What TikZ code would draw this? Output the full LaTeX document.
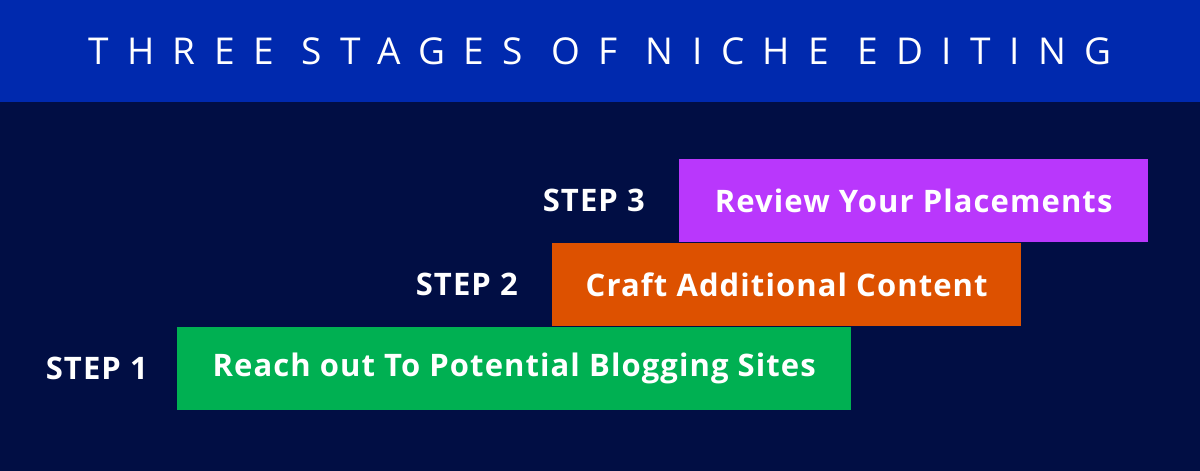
\documentclass[tikz,border=0pt]{standalone}
\usepackage{fontspec}
\setmainfont{Open Sans}
\usetikzlibrary{positioning}
\definecolor{navybg}{HTML}{010E44}
\definecolor{bandblue}{HTML}{0029AE}
\definecolor{purplebar}{HTML}{B937FC}
\definecolor{orangebar}{HTML}{DD5100}
\definecolor{greenbar}{HTML}{00B052}

\begin{document}
\begin{tikzpicture}[x=1pt,y=1pt,
	bar/.style={rectangle, inner sep=0pt, minimum height=83pt, text=white, anchor=north west,
		font=\fontsize{31}{36}\selectfont\bfseries\addfontfeature{LetterSpace=3.5}},
	steplabel/.style={text=white, inner sep=0pt, font=\fontsize{31}{36}\selectfont\bfseries\addfontfeature{LetterSpace=3.5}}]
	\useasboundingbox (0,0) rectangle (1200,471);
	\fill[navybg] (0,0) rectangle (1200,471);
	\node[fill=bandblue, inner sep=0pt, minimum width=1200pt, minimum height=102pt, text=white,
		font=\fontsize{37}{44}\selectfont\addfontfeature{LetterSpace=50}] (band) at (600,420) {THREE STAGES OF NICHE EDITING};
	\node[bar, fill=purplebar, minimum width=469pt] (bar3) at (679,312) {Review Your Placements};
	\node[bar, fill=orangebar, minimum width=469pt] (bar2) at (552,228) {Craft Additional Content};
	\node[bar, fill=greenbar, minimum width=674pt] (bar1) at (177,144) {Reach out To Potential Blogging Sites};
	\node[steplabel, left = 34pt of bar3] (step3) {STEP 3};
	\node[steplabel, left = 34pt of bar2] (step2) {STEP 2};
	\node[steplabel, left = 29pt of bar1] (step1) {STEP 1};
\end{tikzpicture}
\end{document}
